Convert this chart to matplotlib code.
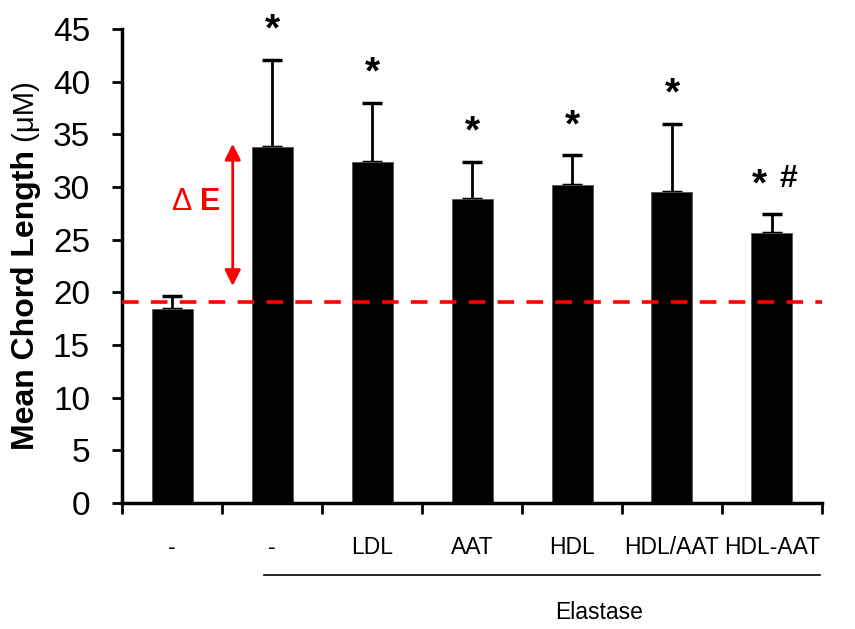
import numpy as np
import matplotlib
matplotlib.use("Agg")
import matplotlib.pyplot as plt

plt.rcParams['font.family'] = ['Liberation Sans', 'DejaVu Sans']

# data
groups = ["-", "-", "LDL", "AAT", "HDL", "HDL/AAT", "HDL-AAT"]
means = [18.4, 33.8, 32.4, 28.9, 30.2, 29.5, 25.6]
errs = [1.25, 8.3, 5.6, 3.5, 2.8, 6.5, 1.8]
stars = [False, True, True, True, True, True, True]
hashes = [False, False, False, False, False, False, True]
baseline = 19.1
yticks = [0, 5, 10, 15, 20, 25, 30, 35, 40, 45]

fig = plt.figure(figsize=(8.55, 6.29), dpi=100)
ax = fig.add_axes([0.1427, 0.2003, 0.8187, 0.7536])

x = np.arange(len(groups))
ax.bar(x, means, width=0.41, color="black", edgecolor="#555555", linewidth=0.6, zorder=2)
ax.errorbar(x, means, yerr=[np.zeros(len(errs)), errs], fmt="none",
            ecolor="black", elinewidth=2, capsize=7, capthick=2.5, zorder=1)

# significance marks
for i in range(len(groups)):
    top = means[i] + errs[i]
    if stars[i] and hashes[i]:
        ax.text(x[i] - 0.13, top + 1.8, "*", ha="center", va="baseline",
                fontsize=28, fontweight="bold", clip_on=False)
        ax.text(x[i] + 0.16, top + 2.6, "#", ha="center", va="baseline",
                fontsize=23, fontweight="bold", clip_on=False)
    elif stars[i]:
        ax.text(x[i], top + 1.8, "*", ha="center", va="baseline",
                fontsize=28, fontweight="bold", clip_on=False)

# reference line
ax.plot([-0.5, 6.5], [baseline, baseline], color="red", lw=2.6,
        linestyle=(0, (4.6, 3.4)), zorder=3, clip_on=False)

# delta E arrow
ax.annotate("", xy=(0.607, 34.1), xytext=(0.607, 20.6),
            arrowprops=dict(arrowstyle="<|-|>", color="red", lw=2,
                            mutation_scale=24, shrinkA=0, shrinkB=0))
ax.text(0.19, 28.6, "\u0394", color="red", fontsize=22, ha="right", va="center")
ax.text(0.38, 28.6, "E", color="red", fontsize=22, fontweight="bold",
        ha="center", va="center")

ax.set_xlim(-0.5, 6.5)
ax.set_ylim(0, 45)
ax.set_yticks(yticks)
ax.set_xticks(np.arange(-0.5, 7, 1))
ax.set_xticklabels([])
ax.tick_params(axis="x", which="major", direction="out", length=8, width=2)
ax.tick_params(axis="y", direction="out", length=7, width=2, labelsize=24, pad=16)

for i in range(len(groups)):
    ax.text(x[i], -4.2, groups[i], ha="center", va="center", fontsize=16.5)

for s in ["top", "right"]:
    ax.spines[s].set_visible(False)
ax.spines["left"].set_linewidth(2.5)
ax.spines["bottom"].set_linewidth(2.5)

# y label: bold part + normal unit
t1 = fig.text(0.03, 1 - 450 / 629, "Mean Chord Length", rotation=90, fontsize=23,
              fontweight="bold", ha="center", va="bottom")
ax.annotate(" (\u03bcM)", xy=(0.5, 1.0), xycoords=t1, rotation=90, fontsize=21,
            ha="center", va="bottom")

# group underline + label
ax.plot([0.92, 6.48], [-6.85, -6.85], color="black", lw=1.2, clip_on=False)
ax.text(4.27, -10.4, "Elastase", ha="center", va="center", fontsize=16.5)

fig.savefig("out.png", dpi=100)
